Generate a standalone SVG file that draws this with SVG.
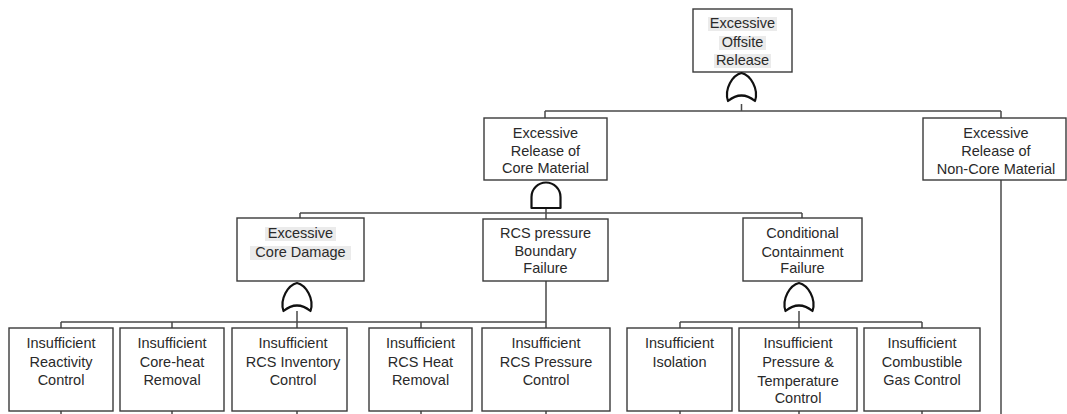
<svg xmlns="http://www.w3.org/2000/svg" xmlns:xlink="http://www.w3.org/1999/xlink" width="1067" height="414" viewBox="0 0 1067 414">
<style>
.box{fill:#fff;stroke:#3a3a3a;stroke-width:1.4}
.t{font-family:"Liberation Sans",Arial,sans-serif;font-size:14.5px;fill:#2a2a2a;text-anchor:middle}
.hl{fill:#ebebeb}
.ln{fill:none;stroke:#4a4a4a;stroke-width:1.5}
.gate{fill:#fff;stroke:#111;stroke-width:2.2;stroke-linejoin:round}
</style>
<defs>
<path id="or" class="gate" d="M-13.5,0 C-17.5,-12 -9,-26 0,-28 C9,-26 17.5,-12 13.5,0 Q0,-11 -13.5,0 Z"/>
<path id="and" class="gate" d="M-14.5,0 L-14.5,-11 A14.5,14.5 0 0 1 14.5,-11 L14.5,0 Z"/>
</defs>
<rect width="1067" height="414" fill="#fff"/>
<g id="connectors">
<path class="ln" d="M741.5,104 V111 M545,111 H1001 M545,111 V118 M1001,111 V118"/>
<path class="ln" d="M546,208 V213 M300,213 H802 M300,213 V218 M546,213 V219 M802,213 V218"/>
<path class="ln" d="M297,311 V322 M61,322 H546 M61,322 V328 M172,322 V328 M297,322 V328 M421,322 V328 M546,281 V328"/>
<path class="ln" d="M799,311 V322 M680,322 H922 M680,322 V328 M799,322 V328 M922,322 V328"/>
<path class="ln" d="M1001,180 V414"/>
<path class="ln" d="M61,411 V414 M172,411 V414 M297,411 V414 M421,411 V414 M546,411 V414 M680,411 V414 M799,411 V414 M922,411 V414"/>
</g>
<g id="n-offsite">
<rect class="box" x="693" y="9" width="99" height="63"/>
<rect class="hl" x="708" y="17" width="69" height="14"/>
<rect class="hl" x="719" y="36" width="47" height="14"/>
<rect class="hl" x="714" y="54" width="57" height="14"/>
<text class="t" x="742.5" y="28">Excessive</text>
<text class="t" x="742.5" y="47">Offsite</text>
<text class="t" x="742.5" y="65">Release</text>
<use xlink:href="#or" x="741.5" y="101"/>
</g>
<g id="n-core-material">
<rect class="box" x="484" y="118" width="123" height="62"/>
<text class="t" x="545.5" y="138">Excessive</text>
<text class="t" x="545.5" y="156">Release of</text>
<text class="t" x="545.5" y="173">Core Material</text>
<use xlink:href="#and" x="546" y="208"/>
</g>
<g id="n-noncore">
<rect class="box" x="923" y="118" width="143" height="62"/>
<text class="t" x="996" y="138">Excessive</text>
<text class="t" x="996" y="156">Release of</text>
<text class="t" x="996" y="174">Non-Core Material</text>
</g>
<g id="n-core-damage">
<rect class="box" x="237" y="218" width="127" height="63"/>
<rect class="hl" x="265" y="227" width="71" height="14"/>
<rect class="hl" x="250" y="246" width="101" height="14"/>
<text class="t" x="300.5" y="238">Excessive</text>
<text class="t" x="300.5" y="257">Core Damage</text>
<use xlink:href="#or" x="297" y="311"/>
</g>
<g id="n-rcs-boundary">
<rect class="box" x="483" y="219" width="125" height="62"/>
<text class="t" x="545.5" y="238">RCS pressure</text>
<text class="t" x="545.5" y="256">Boundary</text>
<text class="t" x="545.5" y="273">Failure</text>
</g>
<g id="n-containment">
<rect class="box" x="743" y="218" width="119" height="63"/>
<text class="t" x="802.5" y="238">Conditional</text>
<text class="t" x="802.5" y="257">Containment</text>
<text class="t" x="802.5" y="273">Failure</text>
<use xlink:href="#or" x="799" y="311"/>
</g>
<g id="n-reactivity">
<rect class="box" x="9" y="328" width="104" height="83"/>
<text class="t" x="61" y="348">Insufficient</text>
<text class="t" x="61" y="367">Reactivity</text>
<text class="t" x="61" y="385">Control</text>
</g>
<g id="n-coreheat">
<rect class="box" x="120" y="328" width="104" height="83"/>
<text class="t" x="172" y="348">Insufficient</text>
<text class="t" x="172" y="367">Core-heat</text>
<text class="t" x="172" y="385">Removal</text>
</g>
<g id="n-inventory">
<rect class="box" x="232" y="328" width="115" height="83"/>
<text class="t" x="293" y="348">Insufficient</text>
<text class="t" x="293" y="367">RCS Inventory</text>
<text class="t" x="293" y="385">Control</text>
</g>
<g id="n-heatremoval">
<rect class="box" x="369" y="328" width="103" height="83"/>
<text class="t" x="420.5" y="348">Insufficient</text>
<text class="t" x="420.5" y="367">RCS Heat</text>
<text class="t" x="420.5" y="385">Removal</text>
</g>
<g id="n-pressure">
<rect class="box" x="482" y="328" width="128" height="83"/>
<text class="t" x="546" y="348">Insufficient</text>
<text class="t" x="546" y="367">RCS Pressure</text>
<text class="t" x="546" y="385">Control</text>
</g>
<g id="n-isolation">
<rect class="box" x="627" y="328" width="105" height="83"/>
<text class="t" x="679.5" y="348">Insufficient</text>
<text class="t" x="679.5" y="367">Isolation</text>
</g>
<g id="n-pt">
<rect class="box" x="739" y="328" width="118" height="83"/>
<text class="t" x="798" y="348">Insufficient</text>
<text class="t" x="798" y="367">Pressure &amp;</text>
<text class="t" x="798" y="386">Temperature</text>
<text class="t" x="798" y="403">Control</text>
</g>
<g id="n-gas">
<rect class="box" x="864" y="328" width="116" height="83"/>
<text class="t" x="922" y="348">Insufficient</text>
<text class="t" x="922" y="367">Combustible</text>
<text class="t" x="922" y="385">Gas Control</text>
</g>
</svg>
